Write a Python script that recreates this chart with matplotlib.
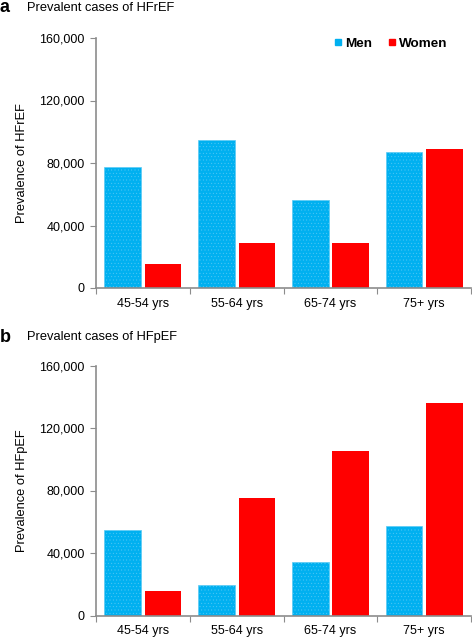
import matplotlib
matplotlib.use("Agg")
import matplotlib.pyplot as plt
from matplotlib.lines import Line2D
import numpy as np

plt.rcParams['font.family'] = ['Liberation Sans', 'DejaVu Sans']
plt.rcParams['hatch.color'] = '#12a6e0'
plt.rcParams['hatch.linewidth'] = 0.25

age_groups = ['45-54 yrs', '55-64 yrs', '65-74 yrs', '75+ yrs']
hfref_men = [77500, 95000, 56500, 87000]
hfref_women = [15500, 29000, 29000, 89000]
hfpef_men = [55000, 19500, 34500, 57000]
hfpef_women = [16000, 75000, 105500, 136000]
yticks = [0, 40000, 80000, 120000, 160000]

men_color = '#00B0F0'
women_color = '#FF0000'
spine_color = '#8c8c8c'

fig = plt.figure(figsize=(4.72, 6.38), dpi=100)


def panel(bottom, men, women, ylabel, title, letter, ytext, legend):
    ax = fig.add_axes([96 / 472, bottom, 375 / 472, 250 / 638])
    x = np.arange(len(age_groups)) + 0.5
    ax.bar(x - 0.215, men, width=0.39, color=men_color, edgecolor='#5ccbf5',
           linewidth=0.5, hatch='.....')
    ax.bar(x + 0.215, women, width=0.39, color=women_color, edgecolor='none')
    ax.set_xlim(0, 4)
    ax.set_ylim(0, 160000)
    ax.set_yticks(yticks)
    ax.set_yticklabels(['{:,}'.format(v) for v in yticks], fontsize=9)
    ax.set_xticks(np.arange(5))
    ax.set_xticklabels([])
    ax.set_xticks(x, minor=True)
    ax.set_xticklabels(age_groups, minor=True, fontsize=9)
    ax.tick_params(axis='x', which='minor', length=0, pad=7)
    ax.tick_params(axis='x', which='major', length=4, color=spine_color)
    ax.tick_params(axis='y', length=4, color=spine_color, pad=4)
    for s in ['top', 'right']:
        ax.spines[s].set_visible(False)
    for s in ['left', 'bottom']:
        ax.spines[s].set_color(spine_color)
        ax.spines[s].set_linewidth(1.2)
    mid = bottom + 125 / 638
    fig.text(22 / 472, mid, ylabel, rotation=90, ha='center', va='center', fontsize=9.3)
    fig.text(27 / 472, 1 - ytext / 638, title, ha='left', va='center', fontsize=9.3)
    fig.text(0, 1 - ytext / 638, letter, ha='left', va='center', fontsize=13, fontweight='bold')
    if legend:
        handles = [Line2D([], [], marker='s', ls='', color=men_color, markersize=5),
                   Line2D([], [], marker='s', ls='', color=women_color, markersize=5)]
        ax.legend(handles, ['Men', 'Women'], loc='upper right', bbox_to_anchor=(0.955, 1.03),
                  ncol=2, frameon=False, handlelength=0.6, handletextpad=0.2,
                  columnspacing=1.2, borderpad=0, prop={'weight': 'bold', 'size': 9.7})
    return ax


panel(1 - 288 / 638, hfref_men, hfref_women, 'Prevalence of HFrEF', 'Prevalent cases of HFrEF', 'a', 8, True)
panel(1 - 615.5 / 638, hfpef_men, hfpef_women, 'Prevalence of HFpEF', 'Prevalent cases of HFpEF', 'b', 337, False)

fig.savefig('out.png', dpi=100)
